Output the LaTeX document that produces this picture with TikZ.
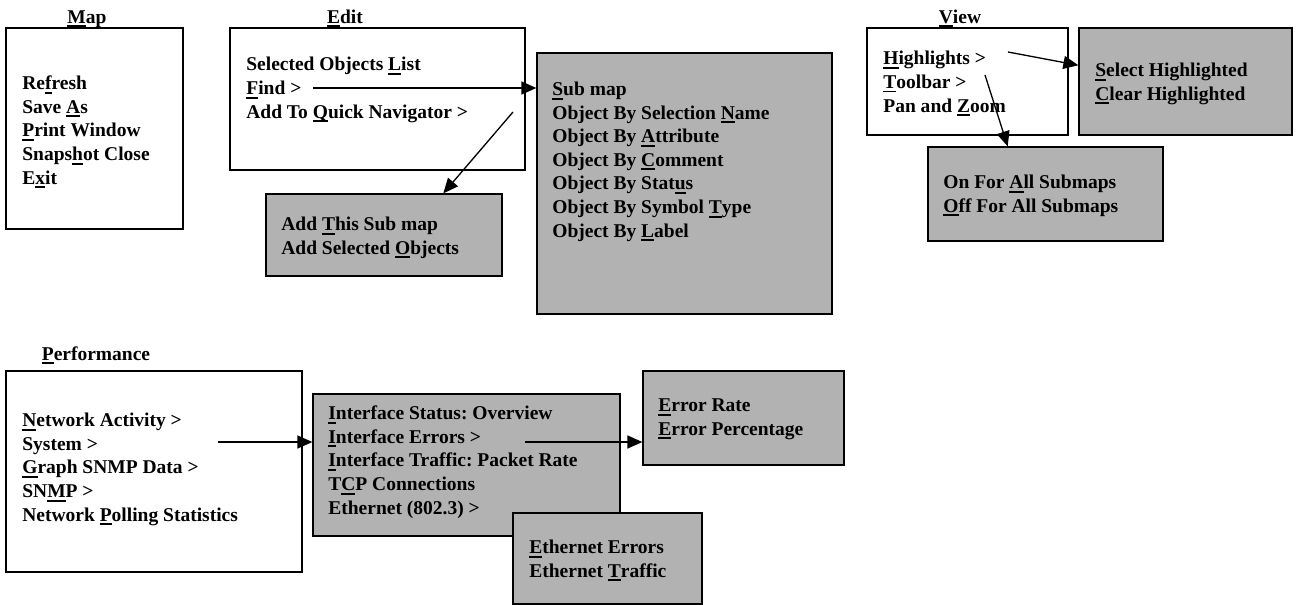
\documentclass[tikz,border=0pt]{standalone}
\usepackage{fontspec}
\setmainfont{Liberation Serif}
\usetikzlibrary{arrows.meta,fit,calc}
\frenchspacing

% underlined access key
\newsavebox\keybox
\newcommand{\key}[1]{\sbox\keybox{#1}\rlap{\rule[-2.3pt]{\wd\keybox}{1.1pt}}\usebox\keybox}

\tikzset{
  menu/.style={draw, line width=0.7pt, inner sep=0pt},
  submenu/.style={menu, fill=gray!60},
  % placed at the baseline of the last line
  items/.style={anchor=base west, align=left, inner sep=0pt,
    font=\fontsize{11.1}{13.4}\selectfont\bfseries},
  title/.style={anchor=base, inner sep=0pt, font=\fontsize{11.1}{13.4}\selectfont\bfseries},
  arr/.style={-{Triangle[length=0.3cm,width=0.26cm]}, line width=0.75pt}
}

\begin{document}
\begin{tikzpicture}[x=0.02cm,y=-0.02cm]
\useasboundingbox (0,0) rectangle (1298,605);

% Map
\node[title] (maptitle) at (87,23) {\key{M}ap};
\node[menu, fit={(6,28) (183,229)}] (map) {};
\node[items] (mapitems) at (22,184) {Re\key{f}resh\\Save \key{A}s\\\key{P}rint Window\\Snaps\key{h}ot Close\\E\key{x}it};

% Edit
\node[title] (edittitle) at (345,23) {\key{E}dit};
\node[menu, fit={(230,28) (525,170)}] (edit) {};
\node[items] (edititems) at (246,118) {Selected Objects \key{L}ist\\\key{F}ind >\\Add To \key{Q}uick Navigator >};
\node[submenu, fit={(266,194) (502,276)}] (addnav) {};
\node[items] (addnavitems) at (281,254) {Add \key{T}his Sub map\\Add Selected \key{O}bjects};
\node[submenu, fit={(537,53) (832,314)}] (find) {};
\node[items] (finditems) at (552,237) {\key{S}ub map\\Object By Selection \key{N}ame\\Object By \key{A}ttribute\\Object By \key{C}omment\\Object By Stat\key{u}s\\Object By Symbol \key{T}ype\\Object By \key{L}abel};
\coordinate (findfrom) at (313,88);
\coordinate (navfrom) at (513,112);
\draw[arr] (findfrom) -- (findfrom -| find.west);
\draw[arr] (navfrom) -- ($(addnav.north west)!0.75!(addnav.north east)$);

% View
\node[title] (viewtitle) at (960,23) {\key{V}iew};
\node[menu, fit={(867,28) (1068,135)}] (view) {};
\node[items] (viewitems) at (883,112) {\key{H}ighlights >\\\key{T}oolbar >\\Pan and \key{Z}oom};
\node[submenu, fit={(1079,28) (1292,135)}] (highlight) {};
\node[items] (highlightitems) at (1095,100) {\key{S}elect Highlighted\\\key{C}lear Highlighted};
\node[submenu, fit={(928,147) (1163,241)}] (toolbar) {};
\node[items] (toolbaritems) at (943,212) {On For \key{A}ll Submaps\\\key{O}ff For All Submaps};
\coordinate (hlfrom) at (1008,52);
\coordinate (tbfrom) at (985,75);
\draw[arr] (hlfrom) -- ($(highlight.north west)!0.35!(highlight.south west)$);
\draw[arr] (tbfrom) -- ($(toolbar.north west)!0.34!(toolbar.north east)$);

% Performance
\node[title] (perftitle) at (96,360) {\key{P}erformance};
\node[menu, fit={(6,371) (302,572)}] (perf) {};
\node[items] (perfitems) at (22,521) {\key{N}etwork Activity >\\System >\\\key{G}raph SNMP Data >\\SN\key{M}P >\\Network \key{P}olling Statistics};
\node[submenu, fit={(313,394) (620,536)}] (netact) {};
\node[items] (netactitems) at (328,514) {\key{I}nterface Status: Overview\\\key{I}nterface Errors >\\\key{I}nterface Traffic: Packet Rate\\T\key{C}P Connections\\Ethernet (802.3) >};
\node[submenu, fit={(643,371) (844,465)}] (iferr) {};
\node[items] (iferritems) at (658,435) {\key{E}rror Rate\\\key{E}rror Percentage};
\node[submenu, fit={(513,513) (702,604)}] (ether) {};
\node[items] (etheritems) at (529,577) {\key{E}thernet Errors\\Ethernet \key{T}raffic};
\coordinate (netfrom) at (218,442);
\coordinate (errfrom) at (525,442);
\draw[arr] (netfrom) -- (netfrom -| netact.west);
\draw[arr] (errfrom) -- (errfrom -| iferr.west);
\end{tikzpicture}
\end{document}
